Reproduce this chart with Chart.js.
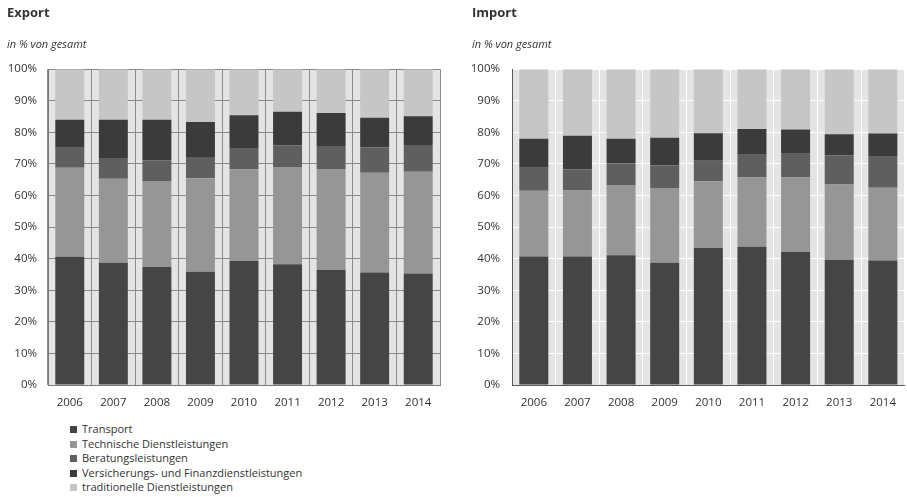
<!DOCTYPE html>
<html lang="de">
<head>
<meta charset="utf-8">
<title>Dienstleistungen Export / Import</title>
<script src="https://cdn.jsdelivr.net/npm/chart.js@4.4.1/dist/chart.umd.min.js"></script>
<style>
  html, body { margin: 0; padding: 0; background: #ffffff; }
  body { width: 907px; height: 497px; position: relative; overflow: hidden; font-family: "Open Sans", sans-serif; }
  #wrapExport { position: absolute; left: 0; top: 0; width: 450px; height: 415px; }
  #wrapImport { position: absolute; left: 450px; top: 0; width: 457px; height: 415px; }
  #legend { position: absolute; left: 70px; top: 422px; margin: 0; padding: 0; list-style: none; font-size: 11px; color: #333333; }
  #legend li { height: 14.6px; line-height: 14.6px; white-space: nowrap; }
  #legend span.box { display: inline-block; width: 7px; height: 7px; margin-right: 5px; vertical-align: 0px; }
</style>
</head>
<body>
<div id="wrapExport"><canvas id="chartExport"></canvas></div>
<div id="wrapImport"><canvas id="chartImport"></canvas></div>
<ul id="legend"></ul>
<script>
// Jahre
const years = ['2006', '2007', '2008', '2009', '2010', '2011', '2012', '2013', '2014'];

// Reihennamen (Reihenfolge von unten nach oben im Stapel)
const seriesNames = [
  'Transport',
  'Technische Dienstleistungen',
  'Beratungsleistungen',
  'Versicherungs- und Finanzdienstleistungen',
  'traditionelle Dienstleistungen'
];
const seriesColors = ['#454545', '#969696', '#5f5f5f', '#3b3b3b', '#c6c6c6'];

// Export, Anteile in % von gesamt
const exportTransport      = [40.6, 38.7, 37.4, 35.9, 39.3, 38.2, 36.4, 35.6, 35.3];
const exportTechnisch      = [28.2, 26.6, 27.2, 29.6, 28.9, 30.8, 32.0, 31.6, 32.2];
const exportBeratung       = [ 6.6,  6.6,  6.6,  6.7,  6.6,  6.8,  7.3,  8.1,  8.5];
const exportVersicherung   = [ 8.6, 12.1, 12.8, 11.1, 10.6, 10.7, 10.4,  9.3,  9.1];
const exportTraditionell   = [16.0, 16.0, 16.0, 16.7, 14.6, 13.5, 13.9, 15.4, 14.9];

// Import, Anteile in % von gesamt
const importTransport      = [40.7, 40.7, 41.1, 38.7, 43.4, 43.8, 42.1, 39.6, 39.4];
const importTechnisch      = [20.8, 20.9, 22.2, 23.7, 21.0, 21.9, 23.6, 23.9, 23.1];
const importBeratung       = [ 7.3,  6.6,  6.8,  7.1,  6.6,  7.2,  7.5,  9.2,  9.8];
const importVersicherung   = [ 9.2, 10.7,  7.9,  8.8,  8.7,  8.2,  7.7,  6.7,  7.3];
const importTraditionell   = [22.0, 21.1, 22.0, 21.7, 20.3, 18.9, 19.1, 20.6, 20.4];

// Achsenbeschriftung
const percentTicks = [0, 10, 20, 30, 40, 50, 60, 70, 80, 90, 100];

const FONT = '"Open Sans", "Liberation Sans", sans-serif';
const TEXT = '#333333';

// Hintergrund der Zeichenfläche
const plotBackground = {
  id: 'plotBackground',
  beforeDraw(chart, args, opts) {
    const a = chart.chartArea;
    const ctx = chart.ctx;
    ctx.save();
    ctx.fillStyle = opts.color || '#e4e4e4';
    ctx.fillRect(a.left, a.top, a.right - a.left, a.bottom - a.top);
    ctx.restore();
  }
};

function buildDatasets(values) {
  return values.map((data, i) => ({
    label: seriesNames[i],
    data: data,
    backgroundColor: seriesColors[i],
    borderWidth: 0,
    categoryPercentage: 1.0,
    barPercentage: 0.665
  }));
}

function makeChart(canvasId, title, values, cfg) {
  return new Chart(document.getElementById(canvasId), {
    type: 'bar',
    data: { labels: years, datasets: buildDatasets(values) },
    plugins: [plotBackground],
    options: {
      responsive: true,
      maintainAspectRatio: false,
      animation: false,
      layout: { padding: { left: cfg.padLeft, right: cfg.padRight, top: 0, bottom: 0 } },
      plugins: {
        legend: { display: false },
        tooltip: { enabled: false },
        plotBackground: { color: '#e4e4e4' },
        title: {
          display: true, text: title, align: 'start', color: TEXT,
          font: { family: FONT, size: 13, weight: 'bold', lineHeight: 1.2 },
          padding: { top: 5, bottom: 16 }
        },
        subtitle: {
          display: true, text: 'in % von gesamt', align: 'start', color: TEXT,
          font: { family: FONT, size: 11, style: 'italic', lineHeight: 1.2 },
          padding: { top: 2, bottom: 17.4 }
        }
      },
      scales: {
        x: {
          stacked: true,
          offset: true,
          grid: { display: true, offset: true, color: cfg.gridColor, lineWidth: 1, drawTicks: false },
          border: { display: true, color: cfg.axisColor, width: 1 },
          ticks: { color: TEXT, font: { family: FONT, size: 11.5 }, padding: 11, maxRotation: 0 },
          afterFit(scale) { scale.height = 30; }
        },
        y: {
          stacked: true,
          min: 0, max: 100,
          afterBuildTicks(scale) { scale.ticks = percentTicks.map(v => ({ value: v })); },
          grid: { color: cfg.gridColor, lineWidth: 1, drawTicks: false },
          border: { display: true, color: cfg.axisColor, width: 1 },
          ticks: { color: TEXT, font: { family: FONT, size: 11.5 }, padding: cfg.tickPad, callback: v => v + '%' },
          afterFit(scale) { scale.width = cfg.yWidth; }
        }
      }
    }
  });
}

makeChart('chartExport', 'Export',
  [exportTransport, exportTechnisch, exportBeratung, exportVersicherung, exportTraditionell],
  { padLeft: 7, padRight: 10, yWidth: 41, tickPad: 11, gridColor: '#8a8a8a', axisColor: '#7a7a7a' });

makeChart('chartImport', 'Import',
  [importTransport, importTechnisch, importBeratung, importVersicherung, importTraditionell],
  { padLeft: 22, padRight: 0, yWidth: 40, tickPad: 12, gridColor: '#ffffff', axisColor: '#595959' });

// Legende
const legend = document.getElementById('legend');
seriesNames.forEach((name, i) => {
  const li = document.createElement('li');
  const box = document.createElement('span');
  box.className = 'box';
  box.style.background = seriesColors[i];
  li.appendChild(box);
  li.appendChild(document.createTextNode(name));
  legend.appendChild(li);
});
</script>
</body>
</html>
